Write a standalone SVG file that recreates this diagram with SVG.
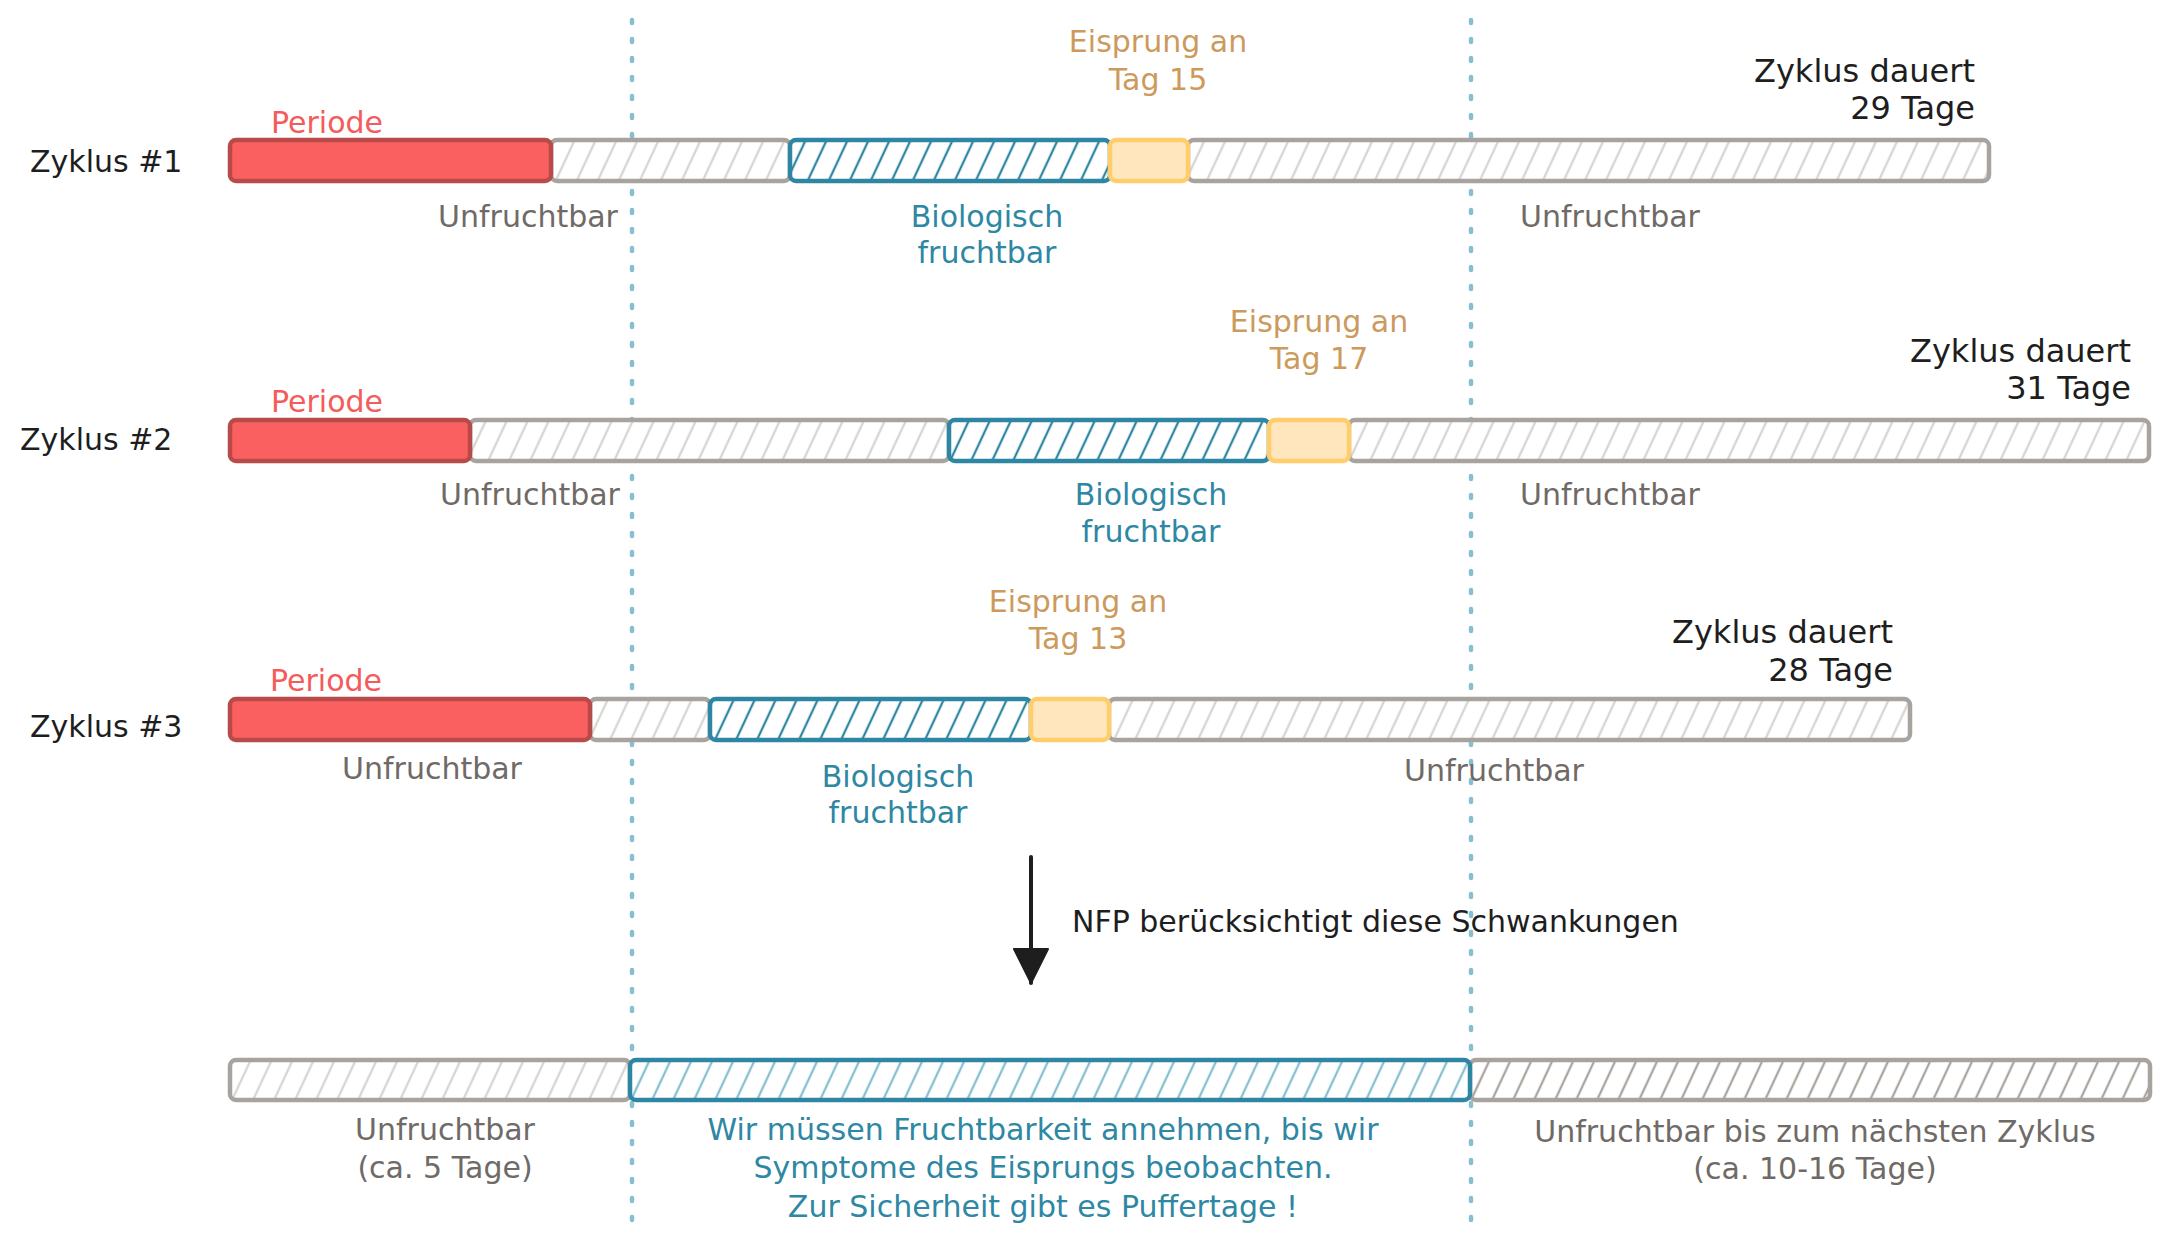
<svg xmlns="http://www.w3.org/2000/svg" width="2170" height="1246" viewBox="0 0 2170 1246">
<style>
text{font-family:"DejaVu Sans","Noto Sans",sans-serif;font-size:30px}
.lbl{fill:#1e1e1e}
.big{font-size:32px}
.per{fill:#f45b5b}
.gt{fill:#706a66}
.bt{fill:#2e87a3}
.ot{fill:#cc9a5c}
.mid{text-anchor:middle}
.end{text-anchor:end}
.seg{stroke-width:4.5;stroke-linejoin:round}
.gray{fill:url(#hLight);stroke:#a9a39f}
.grayD{fill:url(#hDark);stroke:#a9a39f}
.blue{fill:url(#hBlue);stroke:#2e86a2}
.blueL{fill:url(#hBlueL);stroke:#2e86a2}
.yel{fill:#ffe6bd;stroke:#ffcd6b}
.red{fill:#fa6060;stroke:#b84a4a}
.guide{stroke:#87bfd0;stroke-width:4.5;stroke-dasharray:3 16;stroke-linecap:round;fill:none}
</style>
<defs>
<pattern id="hLight" patternUnits="userSpaceOnUse" width="21" height="60" patternTransform="skewX(-25)"><rect width="21" height="60" fill="#ffffff"/><line x1="10" y1="0" x2="10" y2="60" stroke="#d8d4d1" stroke-width="2.5"/></pattern>
<pattern id="hDark" patternUnits="userSpaceOnUse" width="21" height="60" patternTransform="skewX(-25)"><rect width="21" height="60" fill="#ffffff"/><line x1="10" y1="0" x2="10" y2="60" stroke="#aaa49f" stroke-width="2.5"/></pattern>
<pattern id="hBlue" patternUnits="userSpaceOnUse" width="21" height="60" patternTransform="skewX(-25)"><rect width="21" height="60" fill="#ffffff"/><line x1="10" y1="0" x2="10" y2="60" stroke="#2e86a2" stroke-width="2.5"/></pattern>
<pattern id="hBlueL" patternUnits="userSpaceOnUse" width="21" height="60" patternTransform="skewX(-25)"><rect width="21" height="60" fill="#ffffff"/><line x1="10" y1="0" x2="10" y2="60" stroke="#86bfd0" stroke-width="2.5"/></pattern>
<marker id="arrow" markerUnits="userSpaceOnUse" markerWidth="40" markerHeight="40" refX="36" refY="18" orient="auto" viewBox="0 0 40 40"><path d="M2 1 L36 18 L2 35 Z" fill="#1e1e1e" stroke="#1e1e1e" stroke-width="2" stroke-linejoin="round"/></marker>
</defs>
<rect width="2170" height="1246" fill="#ffffff"/>

<g id="guides">
<line class="guide" x1="632" y1="20" x2="632" y2="1226"/>
<line class="guide" x1="1471" y1="20" x2="1471" y2="1226"/>
</g>

<g id="zyklus1">
<text class="lbl" x="30" y="172">Zyklus #1</text>
<rect class="seg gray" x="551" y="140" width="239" height="41" rx="6"/>
<rect class="seg gray" x="1188" y="140" width="801" height="41" rx="6"/>
<rect class="seg blue" x="790" y="140" width="320" height="41" rx="6"/>
<rect class="seg yel" x="1110" y="140" width="78" height="41" rx="6"/>
<rect class="seg red" x="230" y="140" width="321" height="41" rx="6"/>
<text class="per" x="271" y="133">Periode</text>
<text class="gt mid" x="528" y="227">Unfruchtbar</text>
<text class="bt mid" x="987" y="227">Biologisch</text>
<text class="bt mid" x="987" y="263">fruchtbar</text>
<text class="ot mid" x="1158" y="52">Eisprung an</text>
<text class="ot mid" x="1158" y="90">Tag 15</text>
<text class="lbl big end" x="1975" y="82">Zyklus dauert</text>
<text class="lbl big end" x="1975" y="119">29 Tage</text>
<text class="gt mid" x="1610" y="227">Unfruchtbar</text>
</g>

<g id="zyklus2">
<text class="lbl" x="20" y="450">Zyklus #2</text>
<rect class="seg gray" x="470" y="420" width="479" height="41" rx="6"/>
<rect class="seg gray" x="1349" y="420" width="800" height="41" rx="6"/>
<rect class="seg blue" x="949" y="420" width="320" height="41" rx="6"/>
<rect class="seg yel" x="1269" y="420" width="80" height="41" rx="6"/>
<rect class="seg red" x="230" y="420" width="240" height="41" rx="6"/>
<text class="per" x="271" y="412">Periode</text>
<text class="gt mid" x="530" y="505">Unfruchtbar</text>
<text class="bt mid" x="1151" y="505">Biologisch</text>
<text class="bt mid" x="1151" y="542">fruchtbar</text>
<text class="ot mid" x="1319" y="332">Eisprung an</text>
<text class="ot mid" x="1319" y="369">Tag 17</text>
<text class="lbl big end" x="2131" y="362">Zyklus dauert</text>
<text class="lbl big end" x="2131" y="399">31 Tage</text>
<text class="gt mid" x="1610" y="505">Unfruchtbar</text>
</g>

<g id="zyklus3">
<text class="lbl" x="30" y="737">Zyklus #3</text>
<rect class="seg gray" x="590" y="699" width="120" height="41" rx="6"/>
<rect class="seg gray" x="1109" y="699" width="801" height="41" rx="6"/>
<rect class="seg blue" x="710" y="699" width="321" height="41" rx="6"/>
<rect class="seg yel" x="1031" y="699" width="78" height="41" rx="6"/>
<rect class="seg red" x="230" y="699" width="360" height="41" rx="6"/>
<text class="per" x="270" y="691">Periode</text>
<text class="gt mid" x="432" y="779">Unfruchtbar</text>
<text class="bt mid" x="898" y="787">Biologisch</text>
<text class="bt mid" x="898" y="823">fruchtbar</text>
<text class="ot mid" x="1078" y="612">Eisprung an</text>
<text class="ot mid" x="1078" y="649">Tag 13</text>
<text class="lbl big end" x="1893" y="643">Zyklus dauert</text>
<text class="lbl big end" x="1893" y="681">28 Tage</text>
<text class="gt mid" x="1494" y="781">Unfruchtbar</text>
</g>

<g id="connectors">
<line x1="1031" y1="857" x2="1031" y2="983" stroke="#1e1e1e" stroke-width="4" stroke-linecap="round" marker-end="url(#arrow)"/>
<text class="lbl" x="1072" y="932">NFP berücksichtigt diese Schwankungen</text>
</g>

<g id="ergebnis">
<rect class="seg gray" x="230" y="1060" width="400" height="40" rx="6"/>
<rect class="seg grayD" x="1470" y="1060" width="680" height="40" rx="6"/>
<rect class="seg blueL" x="630" y="1060" width="840" height="40" rx="6"/>
<text class="gt mid" x="445" y="1140">Unfruchtbar</text>
<text class="gt mid" x="445" y="1178">(ca. 5 Tage)</text>
<text class="bt mid" x="1043" y="1140">Wir müssen Fruchtbarkeit annehmen, bis wir</text>
<text class="bt mid" x="1043" y="1178">Symptome des Eisprungs beobachten.</text>
<text class="bt mid" x="1043" y="1217">Zur Sicherheit gibt es Puffertage !</text>
<text class="gt mid" x="1815" y="1142">Unfruchtbar bis zum nächsten Zyklus</text>
<text class="gt mid" x="1815" y="1179">(ca. 10-16 Tage)</text>
</g>
</svg>
